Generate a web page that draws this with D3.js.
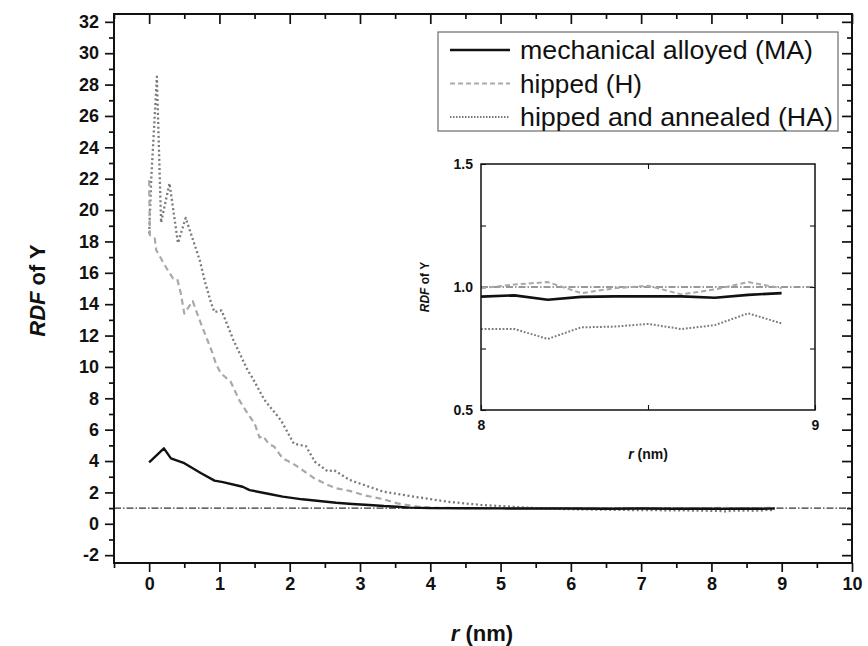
<!DOCTYPE html>
<html>
<head>
<meta charset="utf-8">
<script src="https://cdn.jsdelivr.net/npm/d3@7"></script>
<style>
  html, body { margin: 0; padding: 0; background: #fff; }
  svg { display: block; }
  text { font-family: "Liberation Sans", Arial, sans-serif; fill: #111; }
</style>
</head>
<body>
<svg id="chart" width="868" height="646"></svg>
<script>
// Radial distribution function of Y for three processing states
const rMA   = [0.00, 0.21, 0.31, 0.50, 0.74, 0.93, 1.05, 1.33, 1.43, 1.71, 1.90, 2.18, 2.42, 2.66, 2.89, 3.13, 3.34, 3.53, 3.70, 4.0, 4.5, 5.0, 5.5, 6.0, 6.5, 7.0, 7.5, 8.0, 8.1, 8.2, 8.3, 8.4, 8.5, 8.6, 8.7, 8.8, 8.9];
const rdfMA = [3.92, 4.81, 4.17, 3.86, 3.22, 2.75, 2.66, 2.36, 2.15, 1.90, 1.73, 1.56, 1.45, 1.34, 1.26, 1.20, 1.13, 1.09, 1.03, 1.00, 0.99, 0.98, 0.97, 0.97, 0.96, 0.97, 0.96, 0.961, 0.966, 0.948, 0.960, 0.962, 0.962, 0.962, 0.956, 0.968, 0.975];

const rH   = [0.00, 0.01, 0.08, 0.10, 0.17, 0.26, 0.34, 0.40, 0.45, 0.50, 0.62, 0.70, 0.83, 0.90, 0.95, 1.02, 1.16, 1.28, 1.40, 1.50, 1.57, 1.62, 1.70, 1.78, 1.90, 2.04, 2.18, 2.35, 2.49, 2.66, 2.85, 3.08, 3.32, 3.53, 3.82, 4.1, 4.5, 5.0, 5.5, 6.0, 6.5, 7.0, 7.5, 8.0, 8.1, 8.2, 8.3, 8.4, 8.5, 8.6, 8.7, 8.8, 8.9];
const rdfH = [21.9, 18.4, 18.2, 17.45, 16.9, 16.2, 15.65, 15.6, 14.7, 13.4, 14.2, 13.2, 11.7, 10.9, 10.2, 9.6, 9.06, 7.9, 7.04, 6.4, 5.5, 5.6, 5.1, 4.91, 4.17, 3.86, 3.43, 2.9, 2.58, 2.26, 2.10, 1.80, 1.58, 1.30, 1.09, 1.02, 1.00, 1.00, 0.99, 1.00, 0.99, 1.00, 0.99, 0.995, 1.01, 1.02, 0.975, 0.995, 1.005, 0.97, 0.99, 1.02, 0.995];

const rHA   = [0.00, 0.03, 0.11, 0.17, 0.29, 0.41, 0.52, 0.72, 0.79, 0.88, 0.93, 1.03, 1.20, 1.40, 1.47, 1.64, 1.875, 2.06, 2.23, 2.36, 2.54, 2.63, 2.85, 3.13, 3.34, 3.77, 4.24, 4.72, 5.0, 5.3, 5.6, 6.0, 6.5, 7.0, 7.5, 8.0, 8.1, 8.2, 8.3, 8.4, 8.5, 8.6, 8.7, 8.8, 8.9];
const rdfHA = [18.5, 22.0, 28.5, 19.2, 21.7, 17.9, 19.5, 16.8, 15.5, 14.1, 13.5, 13.6, 11.7, 9.8, 9.3, 7.9, 6.6, 5.1, 4.95, 3.95, 3.35, 3.42, 2.8, 2.36, 2.04, 1.73, 1.41, 1.20, 1.13, 1.05, 0.98, 0.93, 0.90, 0.87, 0.86, 0.829, 0.829, 0.789, 0.836, 0.839, 0.85, 0.829, 0.845, 0.893, 0.852];

const seriesNames = ["mechanical alloyed (MA)", "hipped (H)", "hipped and annealed (HA)"];
const xTicks = d3.range(0, 11, 1);
const yTicks = d3.range(-2, 33, 2);
const insetYTicks = [0.5, 1.0, 1.5];
const insetXTicks = [8, 9];
const referenceLevel = 1;

const series = [
  { name: seriesNames[0], r: rMA, v: rdfMA, stroke: "#111", width: 2.4, dash: null, legendLen: 293 },
  { name: seriesNames[1], r: rH,  v: rdfH,  stroke: "#a2acab", width: 2.2, dash: "6,4", legendLen: 122 },
  { name: seriesNames[2], r: rHA, v: rdfHA, stroke: "#7a7a7a", width: 2.3, dash: "2,2.6", legendLen: 313 }
];

const svg = d3.select("#chart");
const M = { left: 114, right: 852, top: 14, bottom: 563 };

const x = d3.scaleLinear().domain([-0.5, 10]).range([M.left, M.right]);
const y = d3.scaleLinear().domain([-2.5, 32.5]).range([M.bottom, M.top]);

const line = (xs, ys) => d3.line().x(d => xs(d[0])).y(d => ys(d[1]));
const intFmt = d => String(d);   // plain hyphen for negatives

svg.append("clipPath").attr("id", "mainClip").append("rect")
  .attr("x", M.left).attr("y", M.top).attr("width", M.right - M.left).attr("height", M.bottom - M.top);

// axes: bottom / left outward, top / right inward
function styleAxis(g) {
  g.select(".domain").remove();
  g.selectAll(".tick line").attr("stroke", "#111").attr("stroke-width", 1.7);
}
function styleLabels(g, size) {
  g.selectAll("text").attr("font-size", size).attr("font-weight", "bold")
    .attr("font-family", "'Liberation Sans', Arial, sans-serif").attr("fill", "#111");
}
const minorX = d3.range(-0.5, 10.01, 0.5).filter(v => Math.abs(v - Math.round(v)) > 0.01);
const minorY = d3.range(-2, 32.01, 1).filter(v => v % 2 !== 0);

svg.append("g").attr("transform", `translate(0,${M.bottom})`)
  .call(d3.axisBottom(x).tickValues(xTicks).tickSize(9).tickPadding(5).tickFormat(intFmt))
  .call(styleAxis).call(g => styleLabels(g, 18));
svg.append("g").attr("transform", `translate(0,${M.bottom})`)
  .call(d3.axisBottom(x).tickValues(minorX).tickSize(5).tickFormat(""))
  .call(styleAxis);
svg.append("g").attr("transform", `translate(0,${M.top})`)
  .call(d3.axisTop(x).tickValues(xTicks).tickSize(-10).tickFormat(""))
  .call(styleAxis);
svg.append("g").attr("transform", `translate(0,${M.top})`)
  .call(d3.axisTop(x).tickValues(minorX).tickSize(-5).tickFormat(""))
  .call(styleAxis);

svg.append("g").attr("transform", `translate(${M.left},0)`)
  .call(d3.axisLeft(y).tickValues(yTicks).tickSize(9).tickPadding(6).tickFormat(intFmt))
  .call(styleAxis).call(g => styleLabels(g, 18));
svg.append("g").attr("transform", `translate(${M.left},0)`)
  .call(d3.axisLeft(y).tickValues(minorY).tickSize(5).tickFormat(""))
  .call(styleAxis);
svg.append("g").attr("transform", `translate(${M.right},0)`)
  .call(d3.axisRight(y).tickValues(yTicks).tickSize(-10).tickFormat(""))
  .call(styleAxis);
svg.append("g").attr("transform", `translate(${M.right},0)`)
  .call(d3.axisRight(y).tickValues(minorY).tickSize(-5).tickFormat(""))
  .call(styleAxis);

// reference line RDF = 1
svg.append("line")
  .attr("x1", M.left).attr("x2", M.right)
  .attr("y1", y(referenceLevel)).attr("y2", y(referenceLevel))
  .attr("stroke", "#333").attr("stroke-width", 1.1).attr("stroke-dasharray", "7,2,1.5,2");

// curves
const mainG = svg.append("g").attr("clip-path", "url(#mainClip)");
series.slice().reverse().forEach(s => {
  mainG.append("path")
    .datum(s.r.map((r, i) => [r, s.v[i]]))
    .attr("d", line(x, y))
    .attr("fill", "none")
    .attr("stroke", s.stroke)
    .attr("stroke-width", s.width)
    .attr("stroke-linejoin", "round")
    .attr("stroke-dasharray", s.dash);
});

// frame
svg.append("rect")
  .attr("x", M.left).attr("y", M.top)
  .attr("width", M.right - M.left).attr("height", M.bottom - M.top)
  .attr("fill", "none").attr("stroke", "#111").attr("stroke-width", 2);

// axis titles
const yTitle = svg.append("text")
  .attr("transform", `translate(45,${(M.top + M.bottom) / 2 + 2}) rotate(-90)`)
  .attr("text-anchor", "middle").attr("font-size", 22).attr("font-weight", "bold");
yTitle.append("tspan").attr("font-style", "italic").text("RDF");
yTitle.append("tspan").text(" of Y");

const xTitle = svg.append("text")
  .attr("x", 482).attr("y", 641)
  .attr("text-anchor", "middle").attr("font-size", 22).attr("font-weight", "bold");
xTitle.append("tspan").attr("font-style", "italic").text("r");
xTitle.append("tspan").text(" (nm)");

// legend
const L = { x: 438, y: 32, w: 400, h: 99 };
svg.append("rect").attr("x", L.x).attr("y", L.y).attr("width", L.w).attr("height", L.h)
  .attr("fill", "#fff").attr("stroke", "#777").attr("stroke-width", 1.3);
series.forEach((s, i) => {
  const cy = L.y + 18 + i * 33.5;
  svg.append("line").attr("x1", L.x + 12).attr("x2", L.x + 72).attr("y1", cy).attr("y2", cy)
    .attr("stroke", s.stroke).attr("stroke-width", i === 0 ? 2.6 : 2)
    .attr("stroke-dasharray", i === 0 ? null : (i === 1 ? "5,3" : "1.5,1.5"));
  svg.append("text").attr("x", L.x + 82).attr("y", cy + 9)
    .attr("font-size", 26).attr("textLength", s.legendLen).attr("lengthAdjust", "spacingAndGlyphs")
    .text(s.name);
});

// inset: detail of 8–9 nm
const I = { left: 481, right: 815, top: 164, bottom: 410 };
const xi = d3.scaleLinear().domain([8, 9]).range([I.left, I.right]);
const yi = d3.scaleLinear().domain([0.5, 1.5]).range([I.bottom, I.top]);

svg.append("clipPath").attr("id", "insetClip").append("rect")
  .attr("x", I.left).attr("y", I.top).attr("width", I.right - I.left).attr("height", I.bottom - I.top);
svg.append("rect").attr("x", I.left).attr("y", I.top)
  .attr("width", I.right - I.left).attr("height", I.bottom - I.top).attr("fill", "#fff");

function styleInsetAxis(g) {
  g.select(".domain").remove();
  g.selectAll(".tick line").attr("stroke", "#111").attr("stroke-width", 1.1);
}
svg.append("g").attr("transform", `translate(0,${I.bottom})`)
  .call(d3.axisBottom(xi).tickValues([8, 8.5, 9]).tickSize(-5).tickPadding(10)
    .tickFormat(d => insetXTicks.includes(d) ? String(d) : ""))
  .call(styleInsetAxis).call(g => styleLabels(g, 14));
svg.append("g").attr("transform", `translate(0,${I.top})`)
  .call(d3.axisTop(xi).tickValues([8.5]).tickSize(-5).tickFormat(""))
  .call(styleInsetAxis);
svg.append("g").attr("transform", `translate(${I.left},0)`)
  .call(d3.axisLeft(yi).tickValues([0.5, 0.75, 1.0, 1.25, 1.5]).tickSize(-5).tickPadding(8)
    .tickFormat(d => insetYTicks.includes(d) ? d3.format(".1f")(d) : ""))
  .call(styleInsetAxis).call(g => styleLabels(g, 14));
svg.append("g").attr("transform", `translate(${I.right},0)`)
  .call(d3.axisRight(yi).tickValues([0.75, 1.0, 1.25]).tickSize(-5).tickFormat(""))
  .call(styleInsetAxis);

svg.append("line")
  .attr("x1", I.left).attr("x2", I.right)
  .attr("y1", yi(referenceLevel)).attr("y2", yi(referenceLevel))
  .attr("stroke", "#333").attr("stroke-width", 1).attr("stroke-dasharray", "7,2,1.5,2");

const insetG = svg.append("g").attr("clip-path", "url(#insetClip)");
series.slice().reverse().forEach(s => {
  const pts = s.r.map((r, i) => [r, s.v[i]]).filter(d => d[0] >= 8);
  insetG.append("path")
    .datum(pts)
    .attr("d", line(xi, yi))
    .attr("fill", "none")
    .attr("stroke", s.stroke)
    .attr("stroke-width", s.dash ? 2 : 2.6)
    .attr("stroke-linejoin", "round")
    .attr("stroke-dasharray", s.dash ? (s.dash === "6,4" ? "5,3" : "1.8,1.8") : null);
});

svg.append("rect").attr("x", I.left).attr("y", I.top)
  .attr("width", I.right - I.left).attr("height", I.bottom - I.top)
  .attr("fill", "none").attr("stroke", "#111").attr("stroke-width", 1.5);

const yiTitle = svg.append("text")
  .attr("transform", `translate(429,${(I.top + I.bottom) / 2}) rotate(-90)`)
  .attr("text-anchor", "middle").attr("font-size", 12).attr("font-weight", "bold");
yiTitle.append("tspan").attr("font-style", "italic").text("RDF");
yiTitle.append("tspan").text(" of Y");

const xiTitle = svg.append("text")
  .attr("x", (I.left + I.right) / 2).attr("y", 459)
  .attr("text-anchor", "middle").attr("font-size", 14).attr("font-weight", "bold");
xiTitle.append("tspan").attr("font-style", "italic").text("r");
xiTitle.append("tspan").text(" (nm)");
</script>
</body>
</html>
